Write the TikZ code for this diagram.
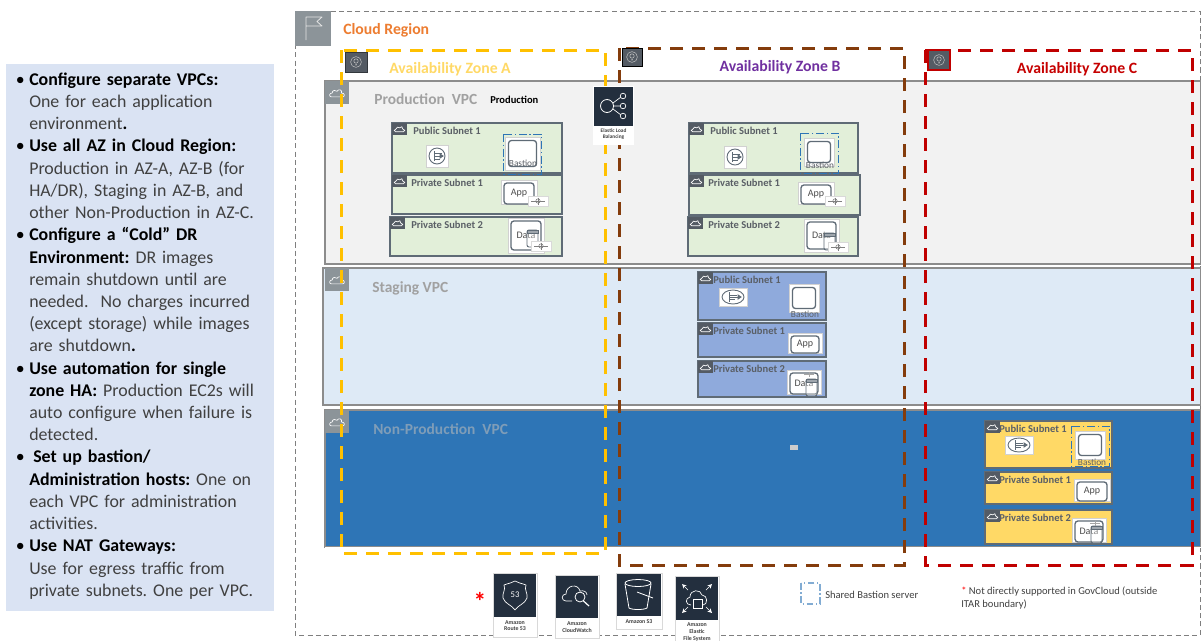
\documentclass[tikz,border=0pt]{standalone}
\usepackage{fontspec}
\setmainfont{Carlito}
\newcommand{\fsz}[1]{\fontsize{#1}{#1}\selectfont}
\newcommand{\blt}{\leavevmode\llap{\textcolor{black}{\textbullet}\hspace{3.4pt}}}
\newcommand{\bld}[1]{\textcolor{black}{\textbf{#1}}}
\definecolor{regionline}{HTML}{7F7F7F}
\definecolor{regionorange}{HTML}{ED7D31}
\definecolor{iconGrey}{HTML}{8C9499}
\definecolor{iconSlate}{HTML}{545B64}
\definecolor{awsNavy}{HTML}{232F3E}
\definecolor{panelBlue}{HTML}{DAE3F3}
\definecolor{azYellow}{HTML}{FFC000}
\definecolor{azBrown}{HTML}{843C0C}
\definecolor{azRed}{HTML}{C00000}
\definecolor{azPurple}{HTML}{7030A0}
\definecolor{vpcGrey}{HTML}{F2F2F2}
\definecolor{vpcLight}{HTML}{DEEAF6}
\definecolor{vpcBlue}{HTML}{2E75B6}
\definecolor{vpcMuted}{HTML}{7F9DB8}
\definecolor{subGreen}{HTML}{E2EFD9}
\definecolor{subBlue}{HTML}{8FAADC}
\definecolor{subYellow}{HTML}{FFD966}
\definecolor{subEdge}{HTML}{5F6B76}
\definecolor{subText}{HTML}{5A5F66}
\definecolor{bastionBlue}{HTML}{2E75B6}
\tikzset{
  vpcbox/.style={draw=#1,line width=1.5*0.75pt},
  azbox/.style={draw=#1,line width=3*0.75pt,dash pattern=on 9.5pt off 7pt},
  subnetbox/.style={draw=subEdge,line width=1.6*0.75pt,fill=#1},
  sublabel/.style={anchor=west,inner sep=0pt,font=\fsz{7.9}\bfseries,text=subText},
  vpclabel/.style={anchor=west,inner sep=0pt,font=\fsz{11.6}\bfseries,text=#1},
  azlabel/.style={anchor=center,inner sep=0pt,font=\fsz{11.8}\bfseries,text=#1},
  iconline/.style={draw=subEdge,line width=0.9*0.75pt},
  capt/.style={anchor=north,align=center,inner sep=0pt,font=\fsz{4.4}\bfseries,text=black!75},
  whitetile/.style={fill=white,draw=black!18,line width=0.6pt},
}
\newcommand{\cloudglyph}[4]{%
  \begin{scope}[shift={(#1,#2)},x=#3*0.75pt,y=-#3*0.75pt]
    \draw[#4,line width=0.5pt,line join=round]
      (-0.8,0.55) .. controls (-1.15,0.55) and (-1.15,0) .. (-0.7,0)
      .. controls (-0.65,-0.45) and (-0.2,-0.45) .. (0,-0.25)
      .. controls (0.25,-0.65) and (0.8,-0.45) .. (0.65,0)
      .. controls (1.15,0) and (1.15,0.55) .. (0.8,0.55) -- cycle;
  \end{scope}}
\newcommand{\subnet}[7]{%
  \draw[subnetbox=#5] (#1,#2) rectangle (#3,#4);
  \fill[iconSlate] (#1,#2) rectangle ++(15,12);
  \cloudglyph{#1+7.5}{#2+6}{5}{white}
  \node[sublabel] at (#7,#2+8) {#6};}
\newcommand{\natico}[2]{%
  \begin{scope}[shift={(#1,#2)}]
    \draw[whitetile] (-11,-11) rectangle (11,11);
    \draw[iconline] (0,0) circle[radius=8];
    \draw[iconline] (-3,-5) -- (-3,5) (-3,-3) -- (5,-3) (-3,0) -- (6,0) (-3,3) -- (3,3);
    \draw[iconline,fill=subEdge] (6,0) -- (3,-2) -- (3,2) -- cycle;
  \end{scope}}
\newcommand{\natwide}[2]{%
  \begin{scope}[shift={(#1,#2)}]
    \draw[whitetile] (-14,-9) rectangle (14,9);
    \draw[iconline] (0,0) ellipse[x radius=11,y radius=7];
    \draw[iconline] (-4,-5) -- (-4,5) (-4,-2) -- (4,-2) (-4,0) -- (6,0) (-4,2) -- (2,2);
    \draw[iconline,fill=subEdge] (8,0) -- (5,-2) -- (5,2) -- cycle;
  \end{scope}}
\newcommand{\instbox}[6]{%
  \begin{scope}[shift={(#1,#2)}]
    \draw[whitetile] (0,0) rectangle (#3,#4);
    \draw[iconline,line width=1.3*0.75pt,rounded corners=2.2pt] (3,3) rectangle (#3-3,#4-#6);
    \node[inner sep=0pt,font=\fsz{7.5},text=black!70] at (#3/2,{(#4-#6)/2+1}) {#5};
  \end{scope}}
\newcommand{\dbcyl}[2]{%
  \begin{scope}[shift={(#1,#2)}]
    \draw[iconline,fill=white,fill opacity=0.35,rounded corners=1.5pt] (0,0) rectangle (11,17);
    \draw[iconline,fill=subEdge!60] (0,0) rectangle (11,3);
  \end{scope}}
\newcommand{\scaler}[2]{%
  \begin{scope}[shift={(#1,#2)}]
    \draw[fill=white,draw=black!15,line width=0.3pt] (-10,-5) rectangle (10,5);
    \draw[black!50,line width=0.4pt] (-7,0) -- (7,0) (0,-3.5) -- (0,3.5);
    \draw[black!50,line width=0.4pt] (0,0) circle[radius=2.2];
  \end{scope}}
\newcommand{\faintscaler}[2]{%
  \begin{scope}[shift={(#1,#2)}]
    \draw[black!35,line width=0.4pt] (-5,0) -- (5,0) (0,-2.5) -- (0,2.5);
  \end{scope}}
\newcommand{\bastiontile}[3]{%
  \begin{scope}[shift={(#1,#2)}]
    \draw[whitetile] (0,0) rectangle (#3,#3-2);
    \draw[iconline,line width=1.3*0.75pt,rounded corners=2.2pt] (3.5,3.5) rectangle (#3-3.5,#3-5.5);
  \end{scope}}
\newcommand{\bastiondash}[4]{%
  \draw[bastionBlue,line width=1*0.75pt,dash pattern=on 6pt off 2pt on 1pt off 2pt] (#1,#2) rectangle (#3,#4);}
\newcommand{\azpin}[2]{%
  \begin{scope}[shift={(#1,#2)}]
    \draw[white!75!black,line width=0.4pt] (0,0) circle[radius=5.4];
    \draw[white!75!black,line width=0.4pt] (0,-1) circle[radius=2.2];
    \fill[white!75!black] (0,2.8) circle[radius=0.8];
  \end{scope}}
\newcommand{\awsicon}[5]{%
  \draw[fill=white,draw=black!15,line width=0.5pt] (#1,#2) rectangle (#3,#4);
  \fill[awsNavy] (#1+1,#2+1) rectangle (#3-1,#5);}
\begin{document}
\begin{tikzpicture}[x=0.75pt,y=-0.75pt]
\useasboundingbox (0,0) rectangle (1201,640);
\fill[white] (0,0) rectangle (1201,640);

\fill[panelBlue] (6,64) rectangle (274,611);
\node[anchor=north west,inner sep=0pt,align=left,text width=244*0.75pt,text=black!75,
      font={\fontsize{13.4}{16.66}\selectfont\frenchspacing}] (notes) at (29,72.5) {%
\blt\bld{Configure separate VPCs:}\\
One for each application\\
environment\bld{.}\\
\blt\bld{Use all AZ in Cloud Region:}\\
Production in AZ-A, AZ-B (for\\
HA/DR), Staging in AZ-B, and\\
other Non-Production in AZ-C.\\
\blt\bld{Configure a “Cold” DR}\\
\bld{Environment:} DR images\\
remain shutdown until are\\
needed.~ No charges incurred\\
(except storage) while images\\
are shutdown\bld{.}\\
\blt\bld{Use automation for single}\\
\bld{zone HA:} Production EC2s will\\
auto configure when failure is\\
detected.\\
\blt\hspace{3pt}\bld{Set up bastion/}\\
\bld{Administration hosts:} One on\\
each VPC for administration\\
activities.\\
\blt\bld{Use NAT Gateways:}\\
Use for egress traffic from\\
private subnets. One per VPC.};

\draw[regionline,line width=1*0.75pt,dash pattern=on 3.8pt off 2.4pt] (295,11) rectangle (1200,635);
\fill[iconGrey] (295,11) rectangle (331,46);
\begin{scope}[shift={(313,28)}]
  \draw[white!90!black,line width=0.6pt,line join=round] (-7,12) -- (-7,-11) -- (9,-11) -- (4,-6.5) -- (9,-2) -- (-7,-2);
\end{scope}
\node[anchor=west,inner sep=0pt,font=\fsz{11.8}\bfseries,text=regionorange] (regionlabel) at (343,30) {Cloud Region};

\draw[vpcbox=black!45,fill=vpcGrey] (325,81) rectangle (1201,264);
\draw[vpcbox=black!45,fill=vpcLight] (323,268) rectangle (1201,405);
\draw[vpcbox=black!45,fill=vpcBlue] (325,410) rectangle (1201,547);
\draw[white,line width=1pt] (325,547.8) -- (1201,547.8);
\foreach \yy in {81,268,410}{
  \fill[iconGrey] (325,\yy) rectangle (349,\yy+23);
  \cloudglyph{337}{\yy+12}{7}{white}
}
\node[vpclabel=black!37] (prodlabel) at (374,99) {Production~ VPC};
\node[anchor=west,inner sep=0pt,font=\fsz{7.9}\bfseries,text=black] (prodtag) at (490,99.5) {Production};
\node[vpclabel=black!37] (staginglabel) at (372,288) {Staging VPC};
\node[vpclabel=vpcMuted] (nonprodlabel) at (373,429) {Non-Production~ VPC};

\node[azlabel=subYellow] (azalabel) at (450,69) {Availability Zone A};
\node[azlabel=azPurple] (azblabel) at (780,67.5) {Availability Zone B};
\node[azlabel=azRed!90!red] (azclabel) at (1077,69.5) {Availability Zone C};

\subnet{392}{123}{562}{173}{subGreen}{Public Subnet 1}{413}
\subnet{392}{175}{562}{214}{subGreen}{Private Subnet 1}{411}
\subnet{390}{217}{562}{256}{subGreen}{Private Subnet 2}{411}
\natico{437}{156}
\bastiontile{505}{137}{35}
\node[inner sep=0pt,font=\fsz{7},text=subText] (bast1) at (523,163.5) {Bastion};
\bastiondash{503.5}{134}{541}{174}
\instbox{501}{180}{36}{24}{App}{0}
\scaler{538}{201}
\instbox{508}{218}{36}{35}{Data}{3}
\dbcyl{527}{230}
\scaler{541}{246}

\subnet{689}{123}{858}{173}{subGreen}{Public Subnet 1}{710}
\subnet{689}{175}{860}{215}{subGreen}{Private Subnet 1}{708}
\subnet{688}{217}{858}{256}{subGreen}{Private Subnet 2}{708}
\natico{735}{157}
\bastiontile{804}{138}{30}
\node[inner sep=0pt,font=\fsz{7},text=subText] (bast2) at (820,165) {Bastion};
\bastiondash{800}{133}{838}{173}
\instbox{798}{182}{36}{22}{App}{0}
\scaler{835}{201}
\instbox{804}{219}{35}{33}{Data}{3}
\dbcyl{824}{233}
\scaler{838}{247}

\subnet{698}{272}{826}{320}{subBlue}{Public Subnet 1}{713}
\subnet{698}{323}{826}{357}{subBlue}{Private Subnet 1}{713}
\subnet{698}{361}{826}{397}{subBlue}{Private Subnet 2}{713}
\natwide{733}{297}
\bastiontile{789}{284}{30}
\node[inner sep=0pt,font=\fsz{7},text=subText] (bast3) at (805,314) {Bastion};
\instbox{788}{333}{34}{20}{App}{0}
\instbox{787}{370}{34}{24}{Data}{0}
\dbcyl{806}{379}
\faintscaler{809}{374}

\subnet{985}{421}{1112}{468}{subYellow}{Public Subnet 1}{999}
\subnet{985}{472}{1112}{504}{subYellow}{Private Subnet 1}{999}
\subnet{985}{510}{1112}{544}{subYellow}{Private Subnet 2}{999}
\natwide{1019}{445}
\bastiontile{1075}{431}{30}
\node[inner sep=0pt,font=\fsz{7},text=subText] (bast4) at (1092,462) {Bastion};
\bastiondash{1071}{426}{1109}{466}
\instbox{1074}{479}{36}{22}{App}{0}
\instbox{1072}{518}{34}{24}{Data}{0}
\dbcyl{1091}{526}
\faintscaler{1095}{523}
\fill[white!80!black] (790,444.5) rectangle (798,449.5);

\draw[azbox=azYellow] (341,50) rectangle (605,553);
\draw[azbox=azBrown] (619,48) rectangle (904,565);
\draw[azbox=azRed] (925,50) rectangle (1192,565);

\draw[fill=iconSlate,draw=iconSlate!60!black,line width=0.5pt] (345,52) rectangle (367,72);
\azpin{356}{62}
\draw[fill=iconSlate,draw=black,line width=1*0.75pt] (622,48) rectangle (642,66);
\azpin{632}{57}
\draw[fill=iconSlate,draw=azRed,line width=2*0.75pt] (928,50) rectangle (950,70);
\azpin{939}{60}

\fill[white] (593,86) rectangle (634,145);
\fill[awsNavy] (594,87) rectangle (633,126);
\begin{scope}[shift={(607,106)}]
  \draw[white,line width=0.6pt] (0,0) circle[radius=6.5];
  \draw[white,line width=0.5pt] (6,-3) -- (14,-9) (6.5,0) -- (14,0) (6,3) -- (14,9);
  \foreach \dy in {-10,0,10}{\draw[awsNavy,fill=awsNavy,draw=white,line width=0.5pt] (16,\dy) circle[radius=2.8];}
\end{scope}
\node[capt,font=\fsz{4}\bfseries] (elbcap) at (613.5,128.5) {Elastic Load\\[0.5pt]Balancing};

\node[inner sep=0pt,text=red,font=\fsz{19}\bfseries] (star) at (480,601) {*};
\awsicon{493}{573}{537}{637}{617}
\begin{scope}[shift={(515,596)}]
  \draw[white,line width=0.5pt,line join=round] (-11,-11) .. controls (-6,-13) and (-3,-13) .. (0,-15)
    .. controls (3,-13) and (6,-13) .. (11,-11) .. controls (9,-6) and (13,-3) .. (12,2)
    .. controls (10,8) and (3,9) .. (0,14) .. controls (-3,9) and (-10,8) .. (-12,2)
    .. controls (-13,-3) and (-9,-6) .. (-11,-11) -- cycle;
  \node[inner sep=0pt,text=white,font=\fsz{6.5}] (r53num) at (0,-1) {53};
\end{scope}
\node[capt] (r53cap) at (515,620) {Amazon\\[0.5pt]Route 53};
\awsicon{555}{575}{599}{638}{618}
\begin{scope}[shift={(575,594)}]
  \draw[white,line width=0.5pt] (-3,7) -- (-9,7) .. controls (-14,7) and (-14,0) .. (-9,0)
     .. controls (-9,-9) and (3,-11) .. (5,-3) .. controls (9,-4) and (12,-2) .. (12,1);
  \draw[white,line width=0.6pt] (5,3) circle[radius=5];
  \draw[white,line width=0.9pt] (8.5,7) -- (14,12);
\end{scope}
\node[capt] (cwcap) at (577,621.5) {Amazon\\[0.5pt]CloudWatch};
\awsicon{616}{573}{662}{629}{616}
\begin{scope}[shift={(638,594)}]
  \draw[white,line width=0.6pt] (0,-11) ellipse[x radius=13,y radius=3.5];
  \draw[white,line width=0.6pt] (-13,-10) -- (-9,14) .. controls (-6,16) and (6,16) .. (9,14) -- (13,-10);
  \draw[white,line width=0.6pt] (-1,-2) -- (15,4);
\end{scope}
\node[capt] (s3cap) at (639,619) {Amazon S3};
\awsicon{675}{576}{719}{641}{620}
\begin{scope}[shift={(697,598)}]
  \draw[white,line width=0.5pt] (-6,7) .. controls (-12,7) and (-12,0) .. (-7,-1)
     .. controls (-7,-9) and (4,-9) .. (5,-3) .. controls (11,-3) and (11,7) .. (6,7);
  \draw[white,line width=0.5pt] (-4,10) rectangle (5,1);
  \draw[white,line width=0.5pt,->,>=stealth] (-9,-8) -- (-15,-14);
  \draw[white,line width=0.5pt,->,>=stealth] (9,-8) -- (15,-14);
  \draw[white,line width=0.5pt,->,>=stealth] (-9,9) -- (-15,15);
  \draw[white,line width=0.5pt,->,>=stealth] (9,9) -- (15,15);
\end{scope}
\node[capt,align=center] (efscap) at (697,622) {Amazon\\[1pt]Elastic\\[1pt]File System};

\draw[bastionBlue!60!white,line width=1.3*0.75pt,dash pattern=on 5pt off 2pt on 1pt off 2pt] (801,583) rectangle (820,604);
\node[anchor=west,inner sep=0pt,font=\fsz{7.9},text=black!75] (sharedlabel) at (825,595) {Shared Bastion server};
\node[anchor=north west,inner sep=0pt,align=left,font={\fontsize{7.9}{9.4}\selectfont},text=black!75] (footnote) at (961,587)
  {\textcolor{red}{*}\ Not directly supported in GovCloud (outside\\ITAR boundary)};
\end{tikzpicture}
\end{document}
